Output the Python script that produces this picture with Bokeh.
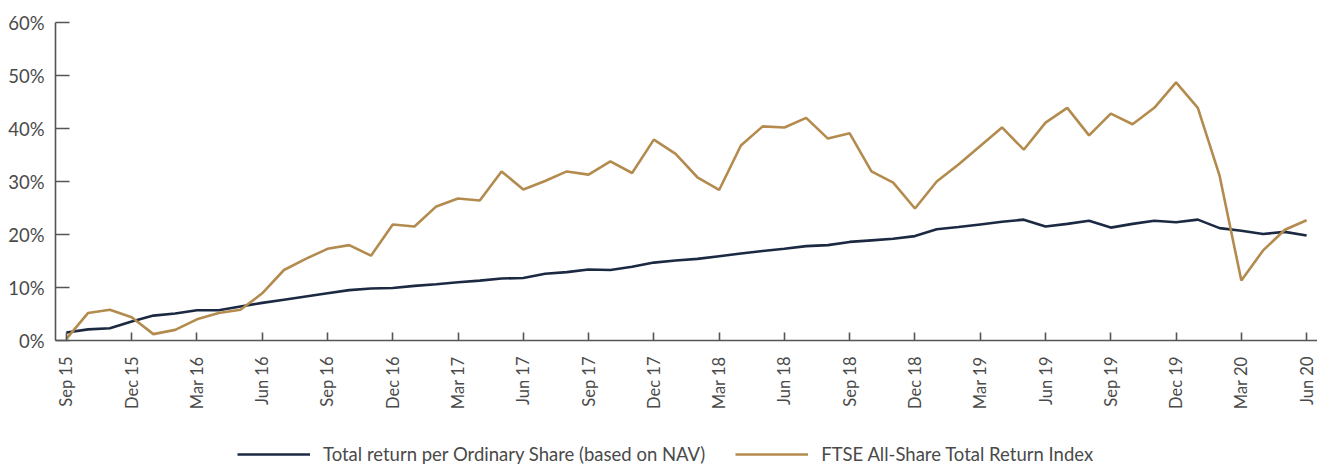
import math
from bokeh.plotting import figure
from bokeh.layouts import column
from bokeh.models import Range1d, FixedTicker, Legend, LegendItem
from bokeh.embed import file_html
from bokeh.resources import INLINE

months = ["Sep 15","Oct 15","Nov 15","Dec 15","Jan 16","Feb 16","Mar 16","Apr 16","May 16","Jun 16",
          "Jul 16","Aug 16","Sep 16","Oct 16","Nov 16","Dec 16","Jan 17","Feb 17","Mar 17","Apr 17",
          "May 17","Jun 17","Jul 17","Aug 17","Sep 17","Oct 17","Nov 17","Dec 17","Jan 18","Feb 18",
          "Mar 18","Apr 18","May 18","Jun 18","Jul 18","Aug 18","Sep 18","Oct 18","Nov 18","Dec 18",
          "Jan 19","Feb 19","Mar 19","Apr 19","May 19","Jun 19","Jul 19","Aug 19","Sep 19","Oct 19",
          "Nov 19","Dec 19","Jan 20","Feb 20","Mar 20","Apr 20","May 20","Jun 20"]

nav_return = [1.5, 2.1, 2.3, 3.6, 4.7, 5.1, 5.7, 5.7, 6.4, 7.1,
              7.7, 8.3, 8.9, 9.5, 9.8, 9.9, 10.3, 10.6, 11.0, 11.3,
              11.7, 11.8, 12.6, 12.9, 13.4, 13.3, 13.9, 14.7, 15.1, 15.4,
              15.9, 16.4, 16.9, 17.3, 17.8, 18.0, 18.6, 18.9, 19.2, 19.7,
              21.0, 21.4, 21.9, 22.4, 22.8, 21.5, 22.0, 22.6, 21.3, 22.0,
              22.6, 22.3, 22.8, 21.2, 20.7, 20.1, 20.5, 19.8]

ftse_return = [0.3, 5.2, 5.8, 4.4, 1.2, 2.0, 4.0, 5.2, 5.8, 8.9,
               13.3, 15.4, 17.3, 18.0, 16.0, 21.9, 21.5, 25.3, 26.8, 26.4,
               31.9, 28.5, 30.1, 31.9, 31.3, 33.8, 31.6, 37.9, 35.2, 30.8,
               28.4, 36.8, 40.4, 40.2, 42.0, 38.1, 39.1, 31.9, 29.8, 24.9,
               30.0, 33.2, 36.7, 40.2, 36.0, 41.1, 43.9, 38.7, 42.8, 40.8,
               43.9, 48.7, 43.9, 31.1, 11.3, 17.0, 20.9, 22.7]

y_ticks = [0, 10, 20, 30, 40, 50, 60]
series_names = ["Total return per Ordinary Share (based on NAV)", "FTSE All-Share Total Return Index"]

NAVY = "#1b2a42"
GOLD = "#b38b4e"
AXIS = "#555555"
TEXT = "#4a4a4a"
FONT = "Lato"

x = list(range(len(months)))

p = figure(width=1317, height=425, output_backend="svg", toolbar_location=None,
           x_range=Range1d(-0.5, 57.5), y_range=Range1d(0, 60),
           min_border_left=55, min_border_right=0, min_border_top=22, min_border_bottom=85)
p.outline_line_color = None
p.grid.visible = False
p.background_fill_color = "white"
p.border_fill_color = "white"

p.line(x, nav_return, line_color=NAVY, line_width=2.6)
p.line(x, ftse_return, line_color=GOLD, line_width=2.6)

xa = p.xaxis[0]
xa.ticker = FixedTicker(ticks=list(range(0, len(months), 3)))
xa.major_label_overrides = {i: months[i] for i in range(0, len(months), 3)}
xa.major_label_orientation = math.pi / 2
xa.major_tick_in = 8
xa.major_tick_out = 0
xa.minor_tick_line_color = None
xa.axis_line_color = AXIS
xa.axis_line_width = 1.6
xa.major_tick_line_color = AXIS
xa.major_tick_line_width = 1.6
xa.major_label_text_font = FONT
xa.major_label_text_font_size = "16.5px"
xa.major_label_text_color = TEXT
xa.major_label_standoff = 16

ya = p.yaxis[0]
ya.ticker = FixedTicker(ticks=y_ticks)
ya.major_label_overrides = {t: f"{t}%" for t in y_ticks}
ya.major_tick_in = 14
ya.major_tick_out = 0
ya.minor_tick_line_color = None
ya.axis_line_color = AXIS
ya.axis_line_width = 1.6
ya.major_tick_line_color = AXIS
ya.major_tick_line_width = 1.6
ya.major_label_text_font = FONT
ya.major_label_text_font_size = "18.5px"
ya.major_label_text_color = TEXT
ya.major_label_standoff = 11

# legend strip below the chart
lg = figure(width=1317, height=40, output_backend="svg", toolbar_location=None,
            x_range=Range1d(-0.5, 57.5), y_range=Range1d(1000, 1001),
            x_axis_location=None, y_axis_location=None,
            min_border_left=0, min_border_right=0, min_border_top=0, min_border_bottom=0)
lg.outline_line_color = None
lg.grid.visible = False
l1 = lg.line(x, nav_return, line_color=NAVY, line_width=2.6)
l2 = lg.line(x, ftse_return, line_color=GOLD, line_width=2.6)

legend = Legend(items=[LegendItem(label=series_names[0], renderers=[l1]),
                       LegendItem(label=series_names[1], renderers=[l2])],
                orientation="horizontal", location=(182, 0),
                glyph_width=73, glyph_height=20, label_standoff=13, spacing=30,
                padding=0, margin=0, border_line_color=None, background_fill_alpha=0,
                label_text_font=FONT, label_text_font_size="18.5px", label_text_color=TEXT)
lg.add_layout(legend, "center")

layout = column(p, lg, spacing=0)
open("out.html", "w").write(file_html(layout, INLINE))
